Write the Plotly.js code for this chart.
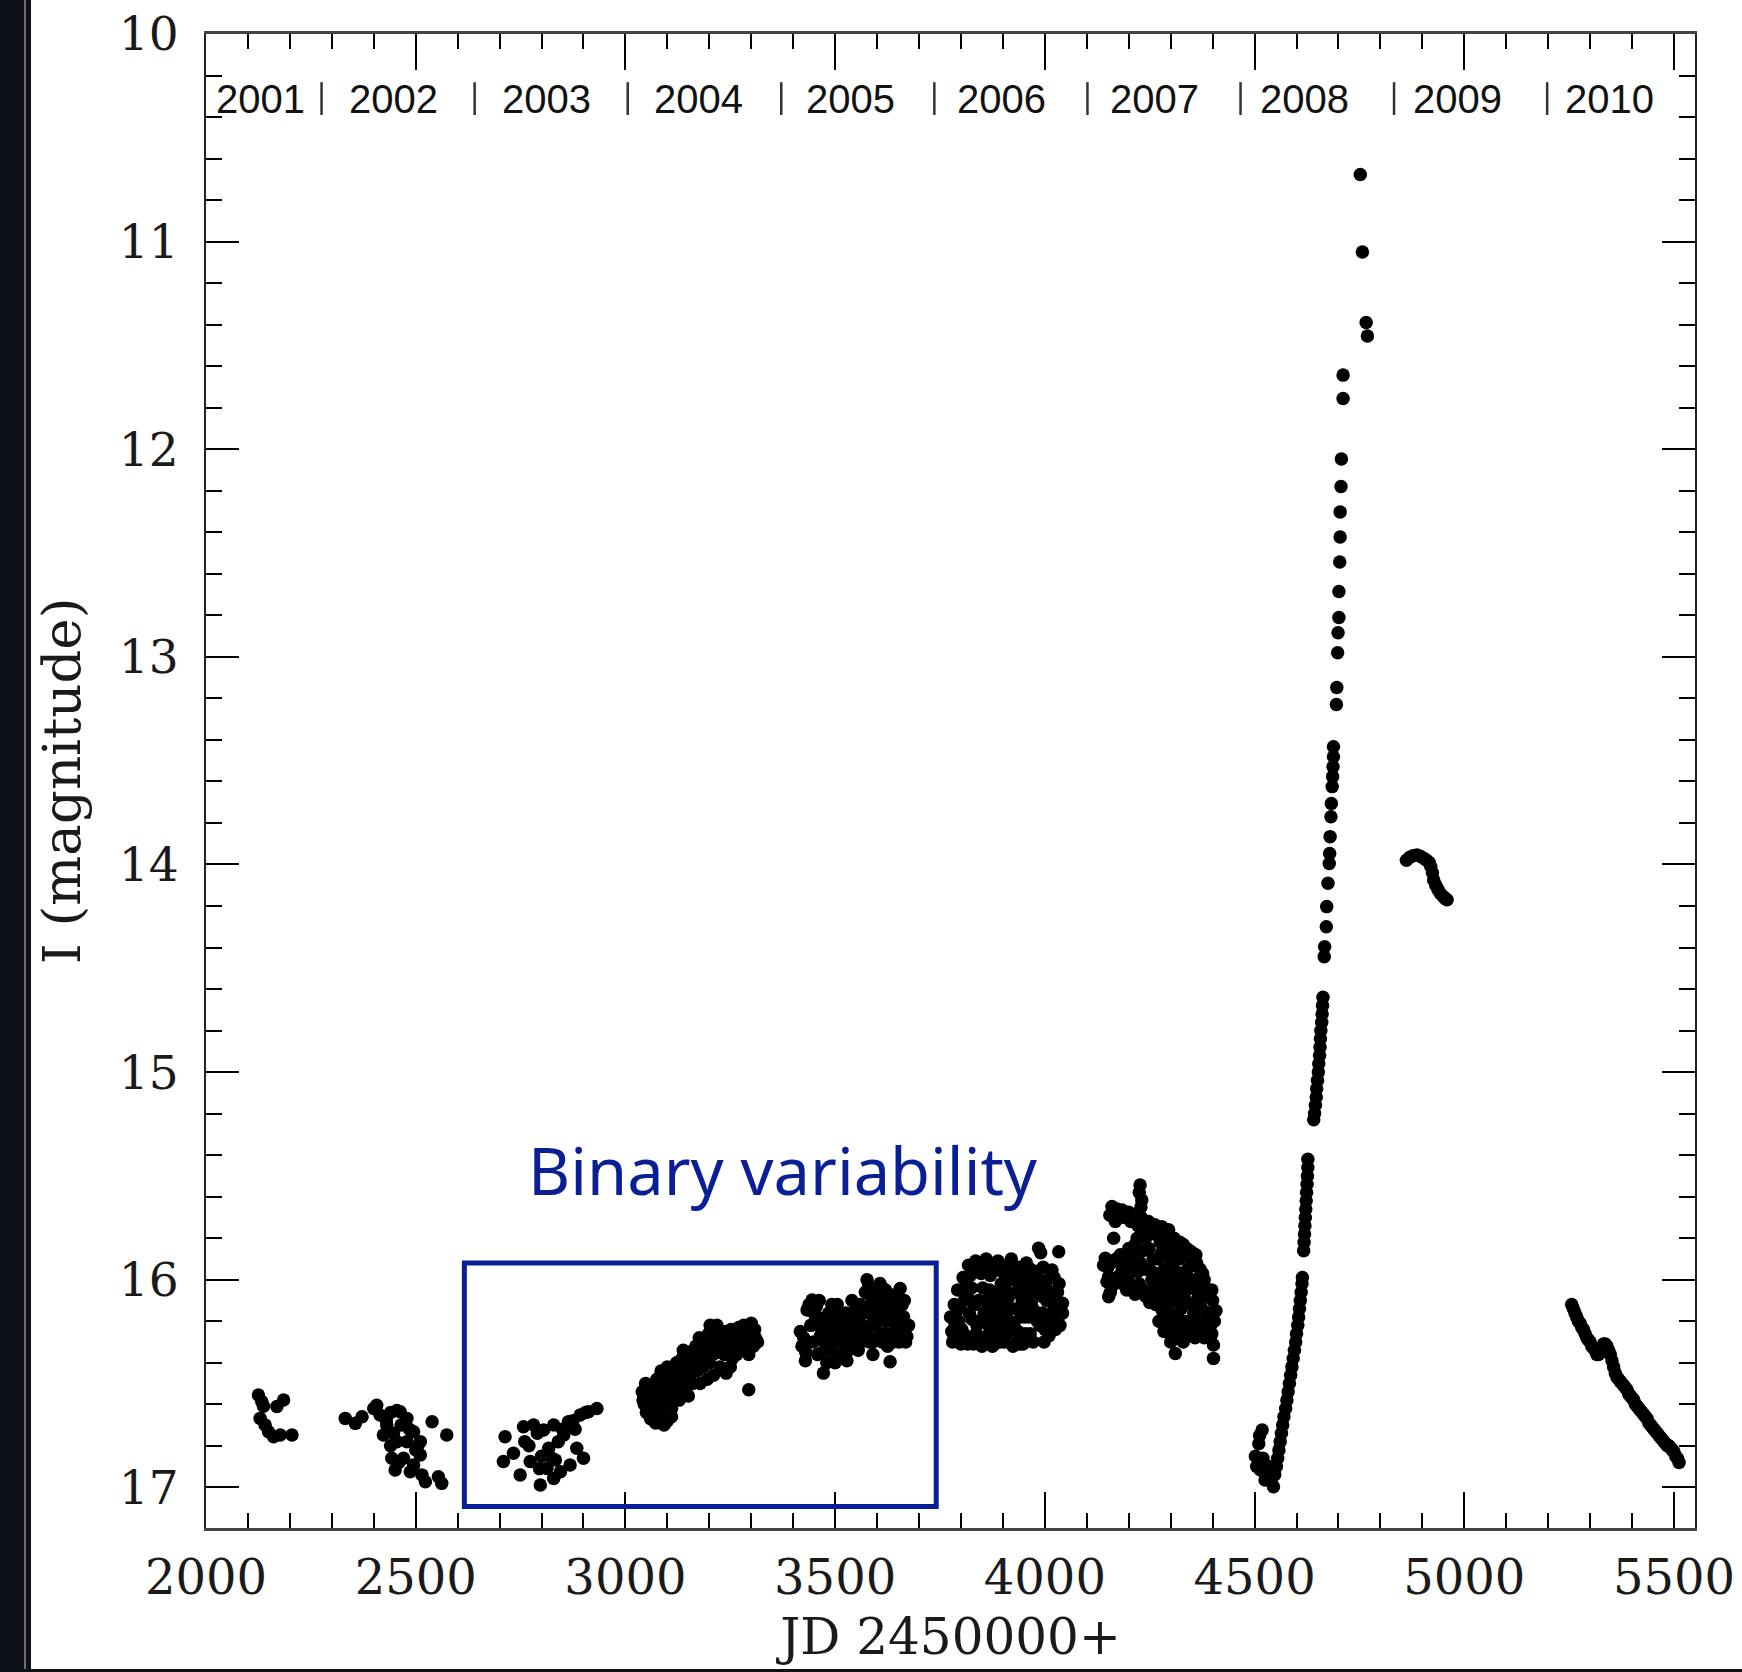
<!DOCTYPE html>
<html><head><meta charset="utf-8">
<script src="https://cdn.plot.ly/plotly-3.0.1.min.js"></script>
<style>
html,body{margin:0;padding:0;background:#0d1016;width:1742px;height:1672px;overflow:hidden}
#edge{position:absolute;left:24px;top:0;width:2px;height:1669px;background:#6e6e6e}
#chart{position:absolute;left:31px;top:0;width:1711px;height:1669px;background:#fff}
</style></head><body>
<div id="edge"></div><div id="chart"></div>
<script>
// ---- Data: I-band light curve, [JD-2450000, I mag] per observing season ----
const obs2001 = [[2125,16.555],[2133,16.587],[2137,16.61],[2169,16.611],[2185,16.579],[2129,16.668],[2141,16.70],[2149,16.732],[2161,16.756],[2177,16.748],[2205,16.748]];
const obs2002 = [[2332,16.668],[2356,16.692],[2372,16.66],[2400,16.62],[2407,16.605],[2415,16.652],[2431,16.70],[2423,16.748],[2447,16.74],[2440,16.64],[2455,16.63],[2463,16.636],[2479,16.668],[2495,16.732],[2511,16.78],[2455,16.78],[2443,16.86],[2451,16.917],[2471,16.86],[2495,16.893],[2511,16.844],[2515,16.941],[2523,16.973],[2554,16.949],[2562,16.981],[2539,16.684],[2574,16.748],[2479,16.78],[2487,16.925],[2465,16.70],[2440,16.80],[2500,16.82],[2430,16.68],[2485,16.72],[2505,16.80],[2460,16.88]];
const obs2003 = [[2713,16.756],[2709,16.876],[2733,16.836],[2749,16.941],[2757,16.708],[2773,16.876],[2797,16.989],[2781,16.70],[2805,16.724],[2817,16.812],[2833,16.868],[2829,16.70],[2853,16.748],[2845,16.925],[2868,16.893],[2864,16.684],[2892,16.652],[2884,16.812],[2900,16.86],[2912,16.636],[2932,16.62],[2813,16.909],[2829,16.957],[2790,16.74],[2760,16.78],[2800,16.85],[2840,16.78],[2875,16.68],[2795,16.91],[2770,16.80],[2850,16.72],[2880,16.72],[2905,16.64],[2825,16.86]];
const obs2004 = [[3040,16.54],[3045,16.60],[3050,16.64],[3060,16.67],[3072,16.69],[3085,16.66],[3100,16.68],[3055,16.57],[3065,16.52],[3075,16.48],[3068,16.60],[3080,16.56],[3090,16.60],[3095,16.52],[3105,16.56],[3110,16.62],[3085,16.44],[3100,16.42],[3115,16.47],[3120,16.52],[3128,16.58],[3130,16.42],[3140,16.46],[3145,16.52],[3150,16.56],[3160,16.50],[3155,16.40],[3138,16.34],[3165,16.38],[3170,16.44],[3178,16.50],[3185,16.42],[3180,16.36],[3192,16.33],[3200,16.40],[3205,16.30],[3202,16.22],[3215,16.26],[3220,16.35],[3230,16.30],[3240,16.25],[3245,16.32],[3255,16.38],[3262,16.28],[3270,16.23],[3275,16.34],[3285,16.26],[3290,16.30],[3300,16.21],[3310,16.28],[3315,16.30],[3294,16.36],[3294,16.53],[3225,16.42],[3240,16.45],[3210,16.46],[3195,16.48],[3250,16.42],
  [3042,16.58],[3048,16.50],[3052,16.62],[3058,16.54],[3062,16.64],[3070,16.56],[3078,16.62],[3082,16.50],[3088,16.66],[3092,16.46],[3098,16.58],[3102,16.48],[3108,16.52],[3112,16.44],[3118,16.58],[3122,16.40],[3125,16.48],[3132,16.50],[3135,16.38],[3142,16.42],[3148,16.36],[3152,16.48],[3158,16.44],[3162,16.34],[3168,16.32],[3172,16.40],[3176,16.28],[3188,16.30],[3190,16.38],[3198,16.26],[3208,16.36],[3212,16.28],[3218,16.22],[3225,16.30],[3232,16.26],[3236,16.36],[3248,16.28],[3252,16.24],[3258,16.32],[3265,16.36],[3268,16.26],[3280,16.30],[3282,16.22],[3296,16.26],[3305,16.32],[3308,16.24],[3080,16.68],[3092,16.70],[3110,16.66],[3135,16.56]];
const obs2005 = [[3417,16.25],[3421,16.32],[3429,16.39],[3433,16.146],[3445,16.098],[3455,16.13],[3460,16.20],[3465,16.27],[3470,16.35],[3472,16.45],[3480,16.40],[3485,16.16],[3490,16.25],[3495,16.32],[3500,16.19],[3505,16.12],[3510,16.28],[3515,16.36],[3520,16.22],[3525,16.16],[3528,16.39],[3535,16.30],[3540,16.10],[3545,16.25],[3550,16.18],[3555,16.34],[3560,16.12],[3565,16.22],[3570,16.28],[3576,16.00],[3580,16.16],[3585,16.08],[3590,16.30],[3595,16.22],[3600,16.14],[3607,16.018],[3610,16.26],[3615,16.10],[3620,16.20],[3625,16.32],[3631,16.395],[3635,16.15],[3639,16.074],[3645,16.25],[3650,16.20],[3655,16.042],[3660,16.12],[3663,16.178],[3668,16.30],[3671,16.274],[3675,16.22],[3620,16.05],[3500,16.40],[3590,16.36],
  [3425,16.28],[3430,16.35],[3438,16.12],[3442,16.22],[3448,16.30],[3452,16.17],[3458,16.36],[3462,16.10],[3468,16.24],[3475,16.30],[3478,16.18],[3482,16.34],[3488,16.20],[3492,16.12],[3498,16.28],[3502,16.36],[3508,16.22],[3512,16.16],[3518,16.30],[3522,16.26],[3530,16.20],[3532,16.34],[3538,16.16],[3542,16.30],[3548,16.22],[3552,16.12],[3558,16.26],[3562,16.30],[3568,16.16],[3572,16.06],[3575,16.24],[3582,16.30],[3588,16.12],[3592,16.20],[3598,16.28],[3602,16.06],[3605,16.18],[3612,16.30],[3618,16.16],[3622,16.26],[3628,16.10],[3632,16.20],[3638,16.30],[3642,16.14],[3648,16.08],[3652,16.30],[3658,16.24],[3665,16.10],[3612,16.04],[3580,16.03]];
const obs2006 = [[3775,16.18],[3778,16.25],[3780,16.30],[3784,16.12],[3792,16.05],[3795,16.20],[3800,16.31],[3805,15.99],[3808,16.10],[3812,16.27],[3818,15.93],[3820,16.16],[3825,16.04],[3830,16.31],[3835,15.91],[3838,16.22],[3842,16.10],[3848,15.97],[3850,16.32],[3855,16.16],[3860,15.90],[3862,16.27],[3868,16.05],[3872,16.20],[3876,15.95],[3880,16.31],[3884,16.12],[3888,15.91],[3892,16.24],[3896,16.02],[3900,16.16],[3904,16.30],[3908,15.93],[3912,16.09],[3916,16.20],[3920,15.90],[3924,16.32],[3928,16.00],[3932,16.14],[3936,16.25],[3940,15.94],[3944,16.06],[3948,16.31],[3952,16.18],[3956,15.92],[3960,16.10],[3965,16.26],[3970,16.01],[3975,16.15],[3980,15.96],[3985,15.849],[3988,16.22],[3992,16.08],[3998,16.30],[4002,16.03],[4008,16.17],[4012,15.98],[4017,15.953],[4020,16.12],[4025,16.24],[4030,16.06],[4033,15.865],[4038,16.15],[4042,16.114],[4042,16.162],[3790,16.27],[3860,16.10],[3940,16.31],[4010,16.27],[3875,16.32],[3990,15.87],
  [3786,16.22],[3796,16.14],[3802,16.24],[3810,16.04],[3816,16.31],[3822,15.98],[3826,16.19],[3832,16.12],[3836,16.26],[3840,15.95],[3846,16.20],[3852,16.04],[3856,16.28],[3858,15.94],[3864,16.14],[3866,16.22],[3870,15.98],[3874,16.10],[3878,16.26],[3882,15.94],[3886,16.18],[3890,16.06],[3894,16.30],[3898,15.96],[3902,16.22],[3906,16.10],[3910,16.26],[3914,16.00],[3918,16.14],[3922,15.96],[3926,16.22],[3930,16.06],[3934,16.30],[3938,16.02],[3942,16.18],[3946,16.10],[3950,15.98],[3954,16.26],[3958,16.04],[3962,16.18],[3966,15.95],[3968,16.12],[3972,16.30],[3978,16.06],[3982,16.20],[3986,16.00],[3994,16.16],[3996,15.94],[4000,16.24],[4004,16.10],[4014,16.20],[4016,16.06],[4022,15.99],[4028,16.18],[4034,16.02],[4036,16.22],[3815,16.08],[3845,16.30],[3905,16.04],[3955,16.12]];
const obs2007 = [[4227,15.544],[4231,15.616],[4160,15.648],[4172,15.66],[4184,15.664],[4200,15.675],[4215,15.688],[4230,15.70],[4247,15.72],[4262,15.735],[4279,15.745],[4295,15.76],[4168,15.72],[4164,15.80],[4144,15.897],[4150,15.94],[4152,15.985],[4152,16.082],[4160,16.03],[4170,15.90],[4200,15.85],[4210,15.90],[4185,15.95],[4200,15.98],[4220,15.80],[4235,15.86],[4240,15.95],[4250,15.78],[4225,16.02],[4255,16.00],[4195,16.05],[4215,16.07],[4262,15.78],[4275,15.82],[4290,15.80],[4300,15.85],[4315,15.84],[4330,15.83],[4345,15.86],[4360,15.88],[4270,15.90],[4285,15.95],[4300,15.92],[4320,15.90],[4340,15.95],[4355,15.93],[4370,15.95],[4380,16.00],[4260,16.05],[4275,16.00],[4290,16.06],[4305,16.02],[4320,16.05],[4335,16.00],[4350,16.04],[4365,16.06],[4390,16.05],[4400,16.10],[4408,16.15],[4265,16.12],[4280,16.15],[4295,16.12],[4310,16.18],[4325,16.14],[4340,16.20],[4355,16.16],[4370,16.12],[4385,16.20],[4395,16.22],[4290,16.20],[4305,16.25],[4320,16.28],[4335,16.25],[4350,16.27],[4365,16.24],[4380,16.28],[4311,16.355],[4402,16.315],[4402,16.379],[4398,16.26],[4250,16.11],[4240,16.08],
  [4245,15.74],[4268,15.76],[4282,15.77],[4308,15.80],[4322,15.82],[4338,15.85],[4352,15.87],[4248,15.85],[4258,15.90],[4278,15.87],[4292,15.88],[4310,15.88],[4328,15.87],[4348,15.91],[4362,15.92],[4376,15.97],[4250,15.95],[4265,15.97],[4282,16.02],[4298,15.98],[4312,15.96],[4328,15.99],[4342,16.03],[4358,16.00],[4372,16.02],[4386,16.08],[4398,16.05],[4258,16.08],[4272,16.08],[4288,16.10],[4302,16.08],[4318,16.10],[4332,16.08],[4348,16.12],[4362,16.10],[4378,16.15],[4392,16.16],[4404,16.20],[4272,16.20],[4284,16.25],[4298,16.16],[4314,16.22],[4328,16.20],[4344,16.24],[4360,16.20],[4372,16.22],[4390,16.25],[4300,16.30],[4330,16.30],[4358,16.28],[4395,16.28],
  [4140,15.93],[4148,16.01],[4156,16.06],[4158,15.92],[4180,15.88],[4178,15.98],[4192,15.90],[4205,15.94],[4215,15.83],[4218,15.86],[4228,15.92],[4230,15.75],[4240,15.80],[4222,15.96],[4185,16.02],[4205,16.03],[4235,16.05],[4155,15.69],[4190,15.70],[4205,15.72],[4222,15.74],[4238,15.76],[4225,15.58],[4229,15.65]];
const obs2008 = [[4502,16.85],[4510,16.79],[4518,16.724],[4514,16.917],[4525,16.965],[4534,16.90],[4545,16.997],[4505,16.90],[4520,16.86],[4530,16.95],[4512,16.75],[4540,16.96],
  [4548,16.94],[4552,16.90],[4555,16.86],[4558,16.82],[4561,16.78],[4564,16.74],[4567,16.70],[4570,16.66],[4574,16.62],[4577,16.58],[4580,16.54],[4583,16.50],[4586,16.46],[4589,16.42],[4592,16.38],[4595,16.34],[4598,16.30],[4600,16.26],[4603,16.22],[4605,16.18],[4607,16.14],[4609,16.10],[4611,16.06],[4613,16.02],[4614,15.99],
  [4617,15.86],[4618,15.82],[4619,15.78],[4620,15.74],[4621,15.70],[4622,15.66],[4623,15.62],[4624,15.58],[4625,15.54],[4626,15.50],[4627,15.46],[4627,15.42],
  [4641,15.23],[4643,15.20],[4645,15.16],[4647,15.12],[4648,15.08],[4650,15.04],[4652,15.00],[4653,14.96],[4655,14.92],[4656,14.88],[4657,14.84],[4658,14.80],[4660,14.76],[4661,14.72],[4662,14.68],[4663,14.64],
  [4666,14.444],[4667,14.396],[4671,14.30],[4672,14.203],[4675,14.091],[4678,13.995],[4679,13.947],[4680,13.866],[4682,13.77],[4683,13.706],[4685,13.625],[4686,13.577],[4687,13.529],[4688,13.481],[4688,13.433],
  [4695,13.23],[4696,13.148],[4698,12.98],[4699,12.884],[4701,12.81],[4701,12.685],[4703,12.543],[4704,12.423],[4704,12.302],[4706,12.18],[4707,12.047],[4711,11.756],[4711,11.643],[4769,11.455],[4766,11.39],[4757,11.05],[4752,10.677]];
const obs2009 = [[4862,13.98],[4870,13.965],[4878,13.958],[4887,13.955],[4895,13.96],[4903,13.97],[4910,13.98],[4916,13.99],[4920,14.01],[4924,14.04],[4927,14.075],[4932,14.10],[4937,14.12],[4943,14.14],[4950,14.155],[4955,14.165],[4959,14.17]];
const obs2010 = [[5256,16.12],[5260,16.14],[5264,16.16],[5268,16.18],[5272,16.20],[5276,16.21],[5280,16.23],[5284,16.24],[5288,16.26],[5292,16.28],[5296,16.29],[5300,16.30],[5304,16.32],[5308,16.33],[5312,16.34],[5316,16.36],[5320,16.36],[5324,16.35],[5328,16.33],[5332,16.31],[5336,16.31],[5340,16.32],[5344,16.34],[5348,16.36],[5352,16.39],[5356,16.42],[5360,16.45],[5364,16.47],[5368,16.48],[5372,16.49],[5376,16.50],[5380,16.51],[5384,16.52],[5388,16.53],[5392,16.55],[5396,16.56],[5400,16.57],[5404,16.58],[5408,16.60],[5412,16.61],[5416,16.62],[5420,16.63],[5424,16.64],[5428,16.65],[5432,16.66],[5436,16.67],[5440,16.69],[5444,16.70],[5448,16.71],[5452,16.72],[5456,16.73],[5460,16.74],[5464,16.75],[5468,16.76],[5472,16.77],[5476,16.78],[5480,16.79],[5484,16.80],[5488,16.80],[5492,16.81],[5496,16.82],[5500,16.83],[5504,16.85],[5508,16.86],[5512,16.88]];

// Calendar year labels and year boundaries (JD-2450000 of 1 January)
const yearLabels = ['2001','2002','2003','2004','2005','2006','2007','2008','2009','2010'];
const yearLabelJD = [2131,2448,2811,3175,3536,3897,4262,4620,4984,5347];
const yearBoundaryJD = [2275.5,2640.5,3005.5,3371.5,3736.5,4101.5,4466.5,4832.5,5197.5];

// Highlighted interval and its label
const boxJD = [2616, 3741];
const boxMag = [15.92, 17.093];
const boxLabel = 'Binary variability';
const boxLabelJD = 3376;
const boxLabelMag = 15.472;

// ---- Build ----
const all = [].concat(obs2001, obs2002, obs2003, obs2004, obs2005, obs2006, obs2007, obs2008, obs2009, obs2010);
const trace = {
  type: 'scatter', mode: 'markers',
  x: all.map(p => p[0]), y: all.map(p => p[1]),
  marker: {color: '#000', size: 13.5, line: {width: 0}},
  hoverinfo: 'skip'
};

const serif = 'DejaVu Serif';
const BLUE = '#0a1f96';
const INK = '#1a1a1a';

const annotations = yearLabels.map((t, i) => ({
  x: yearLabelJD[i], y: 10.315, xref: 'x', yref: 'y', text: t, showarrow: false,
  xanchor: 'center', yanchor: 'middle',
  font: {family: 'Liberation Sans, Arial', size: 40, color: '#111'}
}));
annotations.push({
  x: boxLabelJD, y: boxLabelMag, xref: 'x', yref: 'y', text: boxLabel, showarrow: false,
  xanchor: 'center', yanchor: 'middle',
  font: {family: 'Noto Sans', size: 65, color: BLUE}
});

const shapes = yearBoundaryJD.map(b => ({
  type: 'line', xref: 'x', yref: 'y', x0: b, x1: b, y0: 10.232, y1: 10.39,
  line: {color: '#333', width: 2.5}
}));
shapes.push({
  type: 'rect', xref: 'x', yref: 'y', x0: boxJD[0], x1: boxJD[1], y0: boxMag[0], y1: boxMag[1],
  line: {color: BLUE, width: 5}, fillcolor: 'rgba(0,0,0,0)'
});

const layout = {
  width: 1711, height: 1669,
  margin: {l: 175, r: 47, t: 34, b: 141, pad: 0},
  paper_bgcolor: '#ffffff', plot_bgcolor: '#ffffff',
  showlegend: false,
  xaxis: {
    range: [2000, 5550], tick0: 2000, dtick: 500,
    ticks: 'inside', ticklen: 36, tickwidth: 2, tickcolor: '#000',
    mirror: 'allticks', showline: true, linecolor: '#444', linewidth: 3,
    showgrid: false, zeroline: false,
    minor: {dtick: 100, tick0: 2000, ticks: 'inside', ticklen: 15, tickwidth: 2, tickcolor: '#000', showgrid: false},
    tickfont: {family: serif, size: 48, color: INK},
    ticklabelstandoff: 5,
    title: {text: 'JD 2450000+', font: {family: serif, size: 50, color: INK}, standoff: 16}
  },
  yaxis: {
    range: [17.196, 10], tick0: 10, dtick: 1,
    ticks: 'inside', ticklen: 33, tickwidth: 2, tickcolor: '#000',
    mirror: 'allticks', showline: true, linecolor: '#222', linewidth: 2,
    showgrid: false, zeroline: false,
    minor: {dtick: 0.2, tick0: 10, ticks: 'inside', ticklen: 16, tickwidth: 2, tickcolor: '#000', showgrid: false},
    tickfont: {family: serif, size: 47, color: INK},
    ticklabelstandoff: 16,
    title: {text: 'I (magnitude)', font: {family: serif, size: 53, color: INK}, standoff: 40}
  },
  annotations: annotations,
  shapes: shapes
};

Plotly.newPlot('chart', [trace], layout, {staticPlot: true, displayModeBar: false});
</script></body></html>
